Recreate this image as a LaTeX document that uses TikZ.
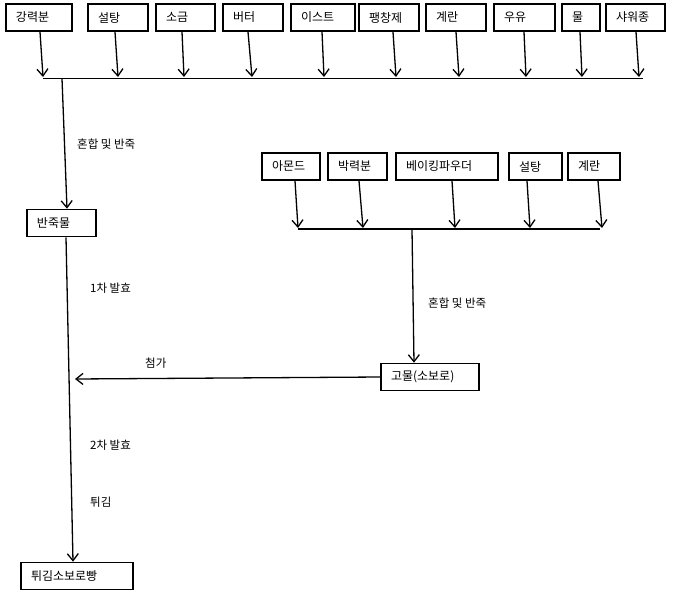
\documentclass[tikz,border=0pt]{standalone}
\usepackage{fontspec}
\setmainfont{Noto Sans CJK KR}
\usetikzlibrary{arrows.meta,calc}
\tikzset{
  box/.style={draw, line width=1.6pt, minimum height=27pt, inner xsep=10pt, inner ysep=0pt, align=left, font=\fontsize{12}{14}\selectfont},
  arr/.style={line width=1.3pt, -{Straight Barb[length=7pt,width=11pt,line width=1.3pt]}},
  bus/.style={line width=1.8pt},
  lbl/.style={anchor=west, inner sep=0pt, font=\fontsize{11.5}{13}\selectfont}
}
\begin{document}
\begin{tikzpicture}[x=1pt,y=-1pt]
\useasboundingbox (0,0) rectangle (673,603);
% top ingredients
\node[box, text width=46pt] (a1) at (39,17.5) {강력분};
\node[box, text width=40pt] (a2) at (118,17.5) {설탕};
\node[box, text width=39pt] (a3) at (185.5,17.5) {소금};
\node[box, text width=40pt] (a4) at (253,17.5) {버터};
\node[box, text width=44pt] (a5) at (323,17.5) {이스트};
\node[box, text width=40pt] (a6) at (389,17.5) {팽창제};
\node[box, text width=40pt] (a7) at (456,17.5) {계란};
\node[box, text width=41pt] (a8) at (524.5,17.5) {우유};
\node[box, text width=18pt] (a9) at (581,17.5) {물};
\node[box, text width=39pt] (a10) at (635.5,17.5) {샤워종};
\coordinate (t1) at (43,77);
\coordinate (t2) at (118,77);
\coordinate (t3) at (184,77);
\coordinate (t4) at (252,77);
\coordinate (t5) at (324,77);
\coordinate (t6) at (396,77);
\coordinate (t7) at (459,77);
\coordinate (t8) at (526,77);
\coordinate (t9) at (582,77);
\coordinate (t10) at (639,77);
\draw[arr] ([xshift=1pt]a1.south) -- (t1);
\draw[arr] ([xshift=-3pt]a2.south) -- (t2);
\draw[arr] ([xshift=-3.5pt]a3.south) -- (t3);
\draw[arr] ([xshift=-5pt]a4.south) -- (t4);
\draw[arr] ([xshift=-1pt]a5.south) -- (t5);
\draw[arr] ([xshift=4pt]a6.south) -- (t6);
\draw[arr] ([xshift=0pt]a7.south) -- (t7);
\draw[arr] ([xshift=-0.5pt]a8.south) -- (t8);
\draw[arr] ([xshift=-1pt]a9.south) -- (t9);
\draw[arr] ([xshift=0.5pt]a10.south) -- (t10);
\coordinate (bl) at (43,78.5);
\coordinate (br) at (643,78.5);
\coordinate (bm) at (62,78.5);
\draw[bus] (bl) -- (br);
% dough
\node[box, text width=49pt] (dough) at (61.5,223) {반죽물};
\draw[arr] (bm) -- ([xshift=5.5pt]dough.north);
\node[lbl] (l1) at (77,144) {혼합 및 반죽};
% right group
\node[box, text width=38pt] (b1) at (291,166.5) {아몬드};
\node[box, text width=39pt] (b2) at (357.5,166.5) {박력분};
\node[box, text width=82pt] (b3) at (447,166.5) {베이킹파우더};
\node[box, text width=33pt] (b4) at (535.5,166.5) {설탕};
\node[box, text width=32pt] (b5) at (594,166.5) {계란};
\coordinate (u1) at (298,228);
\coordinate (u2) at (363,228);
\coordinate (u3) at (455,228);
\coordinate (u4) at (530,228);
\coordinate (u5) at (602,228);
\draw[arr] ([xshift=4pt]b1.south) -- (u1);
\draw[arr] ([xshift=1.5pt]b2.south) -- (u2);
\draw[arr] ([xshift=5pt]b3.south) -- (u3);
\draw[arr] ([xshift=-8.5pt]b4.south) -- (u4);
\draw[arr] ([xshift=4pt]b5.south) -- (u5);
\coordinate (cl) at (298,229);
\coordinate (cr) at (600,229);
\coordinate (cm) at (412,229);
\draw[bus] (cl) -- (cr);
\node[box, text width=78pt] (gomul) at (430,377) {고물(소보로)};
\draw[arr] (cm) -- ([xshift=-16pt]gomul.north);
\node[lbl] (l2) at (428,303) {혼합 및 반죽};
% main flow
\node[box, text width=92pt] (final) at (77,576) {튀김소보로빵};
\draw[arr] ([xshift=4.5pt]dough.south) -- ([xshift=-4pt]final.north);
\coordinate (addpt) at (75,379);
\draw[arr] (gomul.west) -- (addpt);
\node[lbl] (l3) at (90,288) {1차 발효};
\node[lbl] (l4) at (145,363) {첨가};
\node[lbl] (l5) at (90,445) {2차 발효};
\node[lbl] (l6) at (90,502) {튀김};
\end{tikzpicture}
\end{document}
